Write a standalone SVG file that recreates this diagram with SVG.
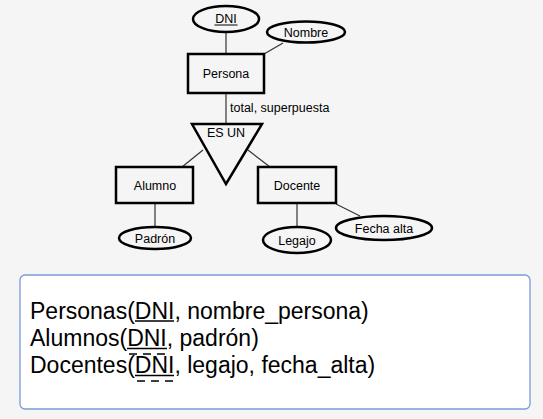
<svg xmlns="http://www.w3.org/2000/svg" width="543" height="419" viewBox="0 0 543 419">
<style>
.n{fill:#f5f5f5;stroke:#000;stroke-width:2.5}
.t{font-family:"Liberation Sans",Arial,sans-serif;font-size:12.5px;fill:#000;text-anchor:middle}
.c{stroke:#333;stroke-width:1.2;fill:none}
.r{font-family:"Liberation Sans",Arial,sans-serif;font-size:23px;fill:#000}
.u{stroke:#000;stroke-width:1.3}
.d{stroke:#000;stroke-width:1.3;stroke-dasharray:8,6}
</style>
<rect width="543" height="419" fill="#f5f5f5"/>
<g id="connectors">
<line class="c" x1="226" y1="32" x2="226" y2="54"/>
<line class="c" x1="264" y1="54" x2="283" y2="43"/>
<line class="c" x1="226" y1="93" x2="226" y2="124"/>
<line class="c" x1="203" y1="150" x2="182" y2="167"/>
<line class="c" x1="248" y1="150" x2="270" y2="167"/>
<line class="c" x1="155" y1="203" x2="155" y2="227"/>
<line class="c" x1="297" y1="203" x2="297" y2="227"/>
<line class="c" x1="336" y1="204" x2="360" y2="216"/>
</g>
<text class="t" x="230" y="112" style="text-anchor:start">total, superpuesta</text>
<g id="dni"><ellipse class="n" cx="226" cy="19" rx="33" ry="13"/><text class="t" x="226" y="23">DNI</text><line x1="214.5" y1="25" x2="237.5" y2="25" stroke="#000" stroke-width="1"/></g>
<g id="nombre"><ellipse class="n" cx="306" cy="32" rx="39" ry="10.5"/><text class="t" x="306" y="37">Nombre</text></g>
<g id="persona"><rect class="n" x="188" y="54" width="76" height="39"/><text class="t" x="226" y="78">Persona</text></g>
<g id="esun"><polygon class="n" points="192,124 262,124 226,184"/><text class="t" x="226" y="137">ES UN</text></g>
<g id="alumno"><rect class="n" x="116" y="167" width="77" height="36"/><text class="t" x="155" y="190">Alumno</text></g>
<g id="docente"><rect class="n" x="258" y="167" width="78" height="36"/><text class="t" x="297" y="190">Docente</text></g>
<g id="padron"><ellipse class="n" cx="155" cy="238" rx="36" ry="11"/><text class="t" x="155" y="243">Padrón</text></g>
<g id="legajo"><ellipse class="n" cx="297" cy="240" rx="34" ry="13"/><text class="t" x="297" y="245">Legajo</text></g>
<g id="fecha"><ellipse class="n" cx="384" cy="228" rx="48" ry="12"/><text class="t" x="384" y="233">Fecha alta</text></g>
<g id="tablas">
<rect x="20" y="275" width="510" height="134" rx="5" fill="#fff" stroke="#7b9bd6" stroke-width="1.3"/>
<text class="r" x="30" y="318.5">Personas(DNI, nombre_persona)</text>
<text class="r" x="30" y="346">Alumnos(DNI, padrón)</text>
<text class="r" x="30" y="373">Docentes(DNI, legajo, fecha_alta)</text>
<line class="u" x1="135" y1="321" x2="174" y2="321"/>
<line class="u" x1="127" y1="348.5" x2="167" y2="348.5"/>
<line class="d" x1="129" y1="354" x2="167" y2="354"/>
<line class="u" x1="135" y1="375.5" x2="174" y2="375.5"/>
<line class="d" x1="137" y1="381" x2="175" y2="381"/>
</g>
</svg>
